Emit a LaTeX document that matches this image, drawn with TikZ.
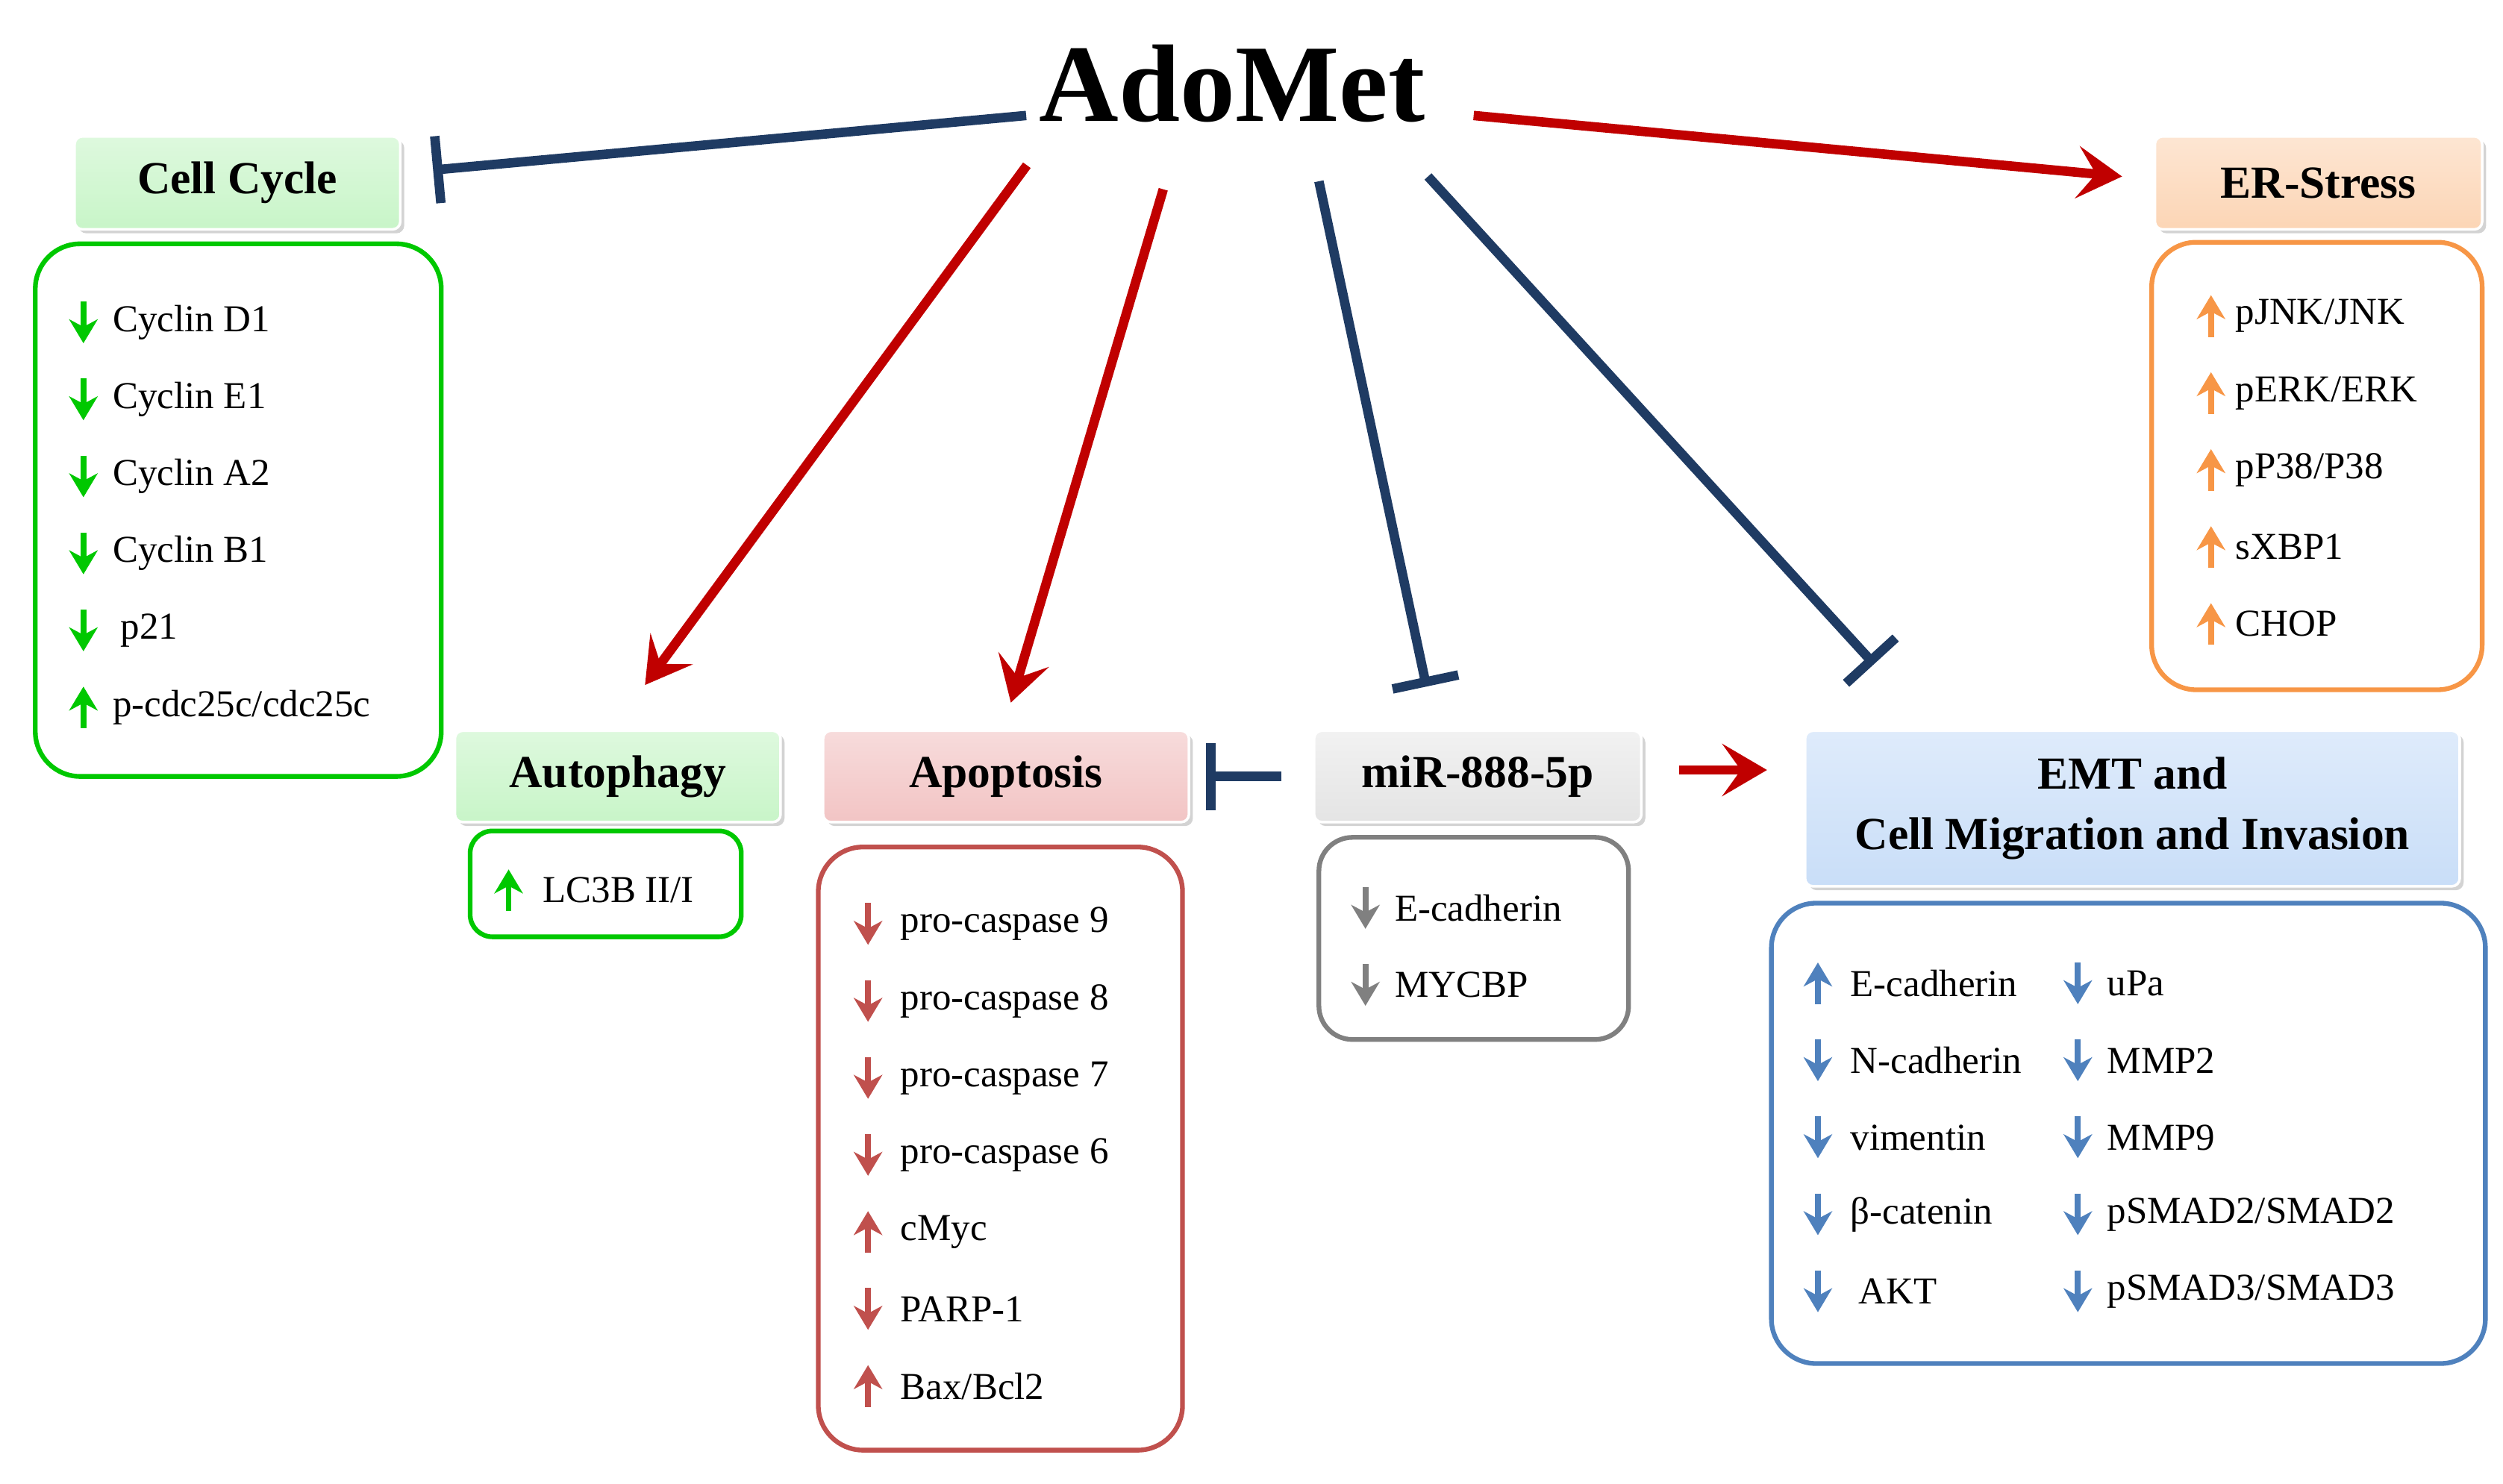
\documentclass[tikz,border=0pt]{standalone}
\usepackage{fontspec}
\setmainfont{Liberation Serif}
\usetikzlibrary{arrows.meta,shadows}
\definecolor{navy}{HTML}{1F3B63}
\definecolor{darkred}{HTML}{C00000}
\definecolor{ccgreen}{HTML}{00C800}
\definecolor{ccfill}{HTML}{C8F5C8}
\definecolor{ergold}{HTML}{F79646}
\definecolor{erfill}{HTML}{FCD5B5}
\definecolor{apred}{HTML}{C0504D}
\definecolor{apfill}{HTML}{F2C4C4}
\definecolor{migray}{HTML}{808080}
\definecolor{mifill}{HTML}{E4E4E4}
\definecolor{emblue}{HTML}{4F81BD}
\definecolor{emfill}{HTML}{C9DEF8}
\tikzset{
    head/.style={draw=white, line width=1pt, rounded corners=3pt, font=\fontsize{17.5}{21}\selectfont\bfseries,
        drop shadow={shadow xshift=1.5pt, shadow yshift=-1.5pt, opacity=0.35}},
    group/.style={draw, line width=1.8pt, rounded corners=0.6cm},
    entry/.style={anchor=west, inner sep=0pt, font=\fontsize{14.5}{17}\selectfont},
    inhibit/.style={navy, line width=3.6pt, -{Bar[width=9mm, line width=3.6pt]}},
    promote/.style={darkred, line width=3.6pt, -{Stealth[length=6mm, width=7mm, inset=2.5mm]}},
    down/.style={line width=2.2pt, -{Stealth[length=3.2mm, width=3.8mm, inset=1mm]}},
    up/.style={line width=2.2pt, {Stealth[length=3.2mm, width=3.8mm, inset=1mm]}-}
}
% an entry of a list: arrow x, text x, y, up/down, colour, name, text
\newcommand{\listentry}[7]{
    \draw[#4, #5] (#1,#3-13) -- (#1,#3+13);
    \node[entry] (#6) at (#2,#3) {#7};
}
\begin{document}
\begin{tikzpicture}[x=0.0215cm, y=-0.0215cm]
    \useasboundingbox (0,0) rectangle (1560,925);

    % title
    \node[inner sep=0pt, font=\fontsize{42}{46}\selectfont\bfseries] (adomet) at (768,52) {AdoMet};

    % headings
    \node[head, top color=ccfill!60, bottom color=ccfill, minimum width=203*0.0215cm, minimum height=58*0.0215cm] (cellcycle) at (148,114) {Cell Cycle};
    \node[head, top color=erfill!60, bottom color=erfill, minimum width=204*0.0215cm, minimum height=58*0.0215cm] (erstress) at (1445,114) {ER-Stress};
    \node[head, top color=ccfill!60, bottom color=ccfill, minimum width=203*0.0215cm, minimum height=57*0.0215cm] (autophagy) at (385,484) {Autophagy};
    \node[head, top color=apfill!60, bottom color=apfill, minimum width=228*0.0215cm, minimum height=57*0.0215cm] (apoptosis) at (627,484) {Apoptosis};
    \node[head, top color=mifill!50, bottom color=mifill, minimum width=204*0.0215cm, minimum height=57*0.0215cm] (mir) at (921,484) {miR-888-5p};
    \node[head, top color=emfill!60, bottom color=emfill, minimum width=408*0.0215cm, minimum height=97*0.0215cm, align=center] (emt) at (1329,504) {EMT and\\[2pt]Cell Migration and Invasion};

    % list frames
    \draw[group, ccgreen] (22,152) rectangle (275,484);
    \draw[group, ergold] (1341,151) rectangle (1547,430);
    \draw[group, ccgreen, rounded corners=0.3cm] (293,518) rectangle (462,584);
    \draw[group, apred] (510,528) rectangle (737,904);
    \draw[group, migray, rounded corners=0.45cm] (822,522) rectangle (1015,648);
    \draw[group, emblue] (1104,563) rectangle (1549,850);

    % cell cycle
    \listentry{52}{70}{201}{down}{ccgreen}{cc1}{Cyclin D1}
    \listentry{52}{70}{249}{down}{ccgreen}{cc2}{Cyclin E1}
    \listentry{52}{70}{297}{down}{ccgreen}{cc3}{Cyclin A2}
    \listentry{52}{70}{345}{down}{ccgreen}{cc4}{Cyclin B1}
    \listentry{52}{75}{393}{down}{ccgreen}{cc5}{p21}
    \listentry{52}{70}{441}{up}{ccgreen}{cc6}{p-cdc25c/cdc25c}

    % ER stress
    \listentry{1378}{1393}{197}{up}{ergold}{er1}{pJNK/JNK}
    \listentry{1378}{1393}{245}{up}{ergold}{er2}{pERK/ERK}
    \listentry{1378}{1393}{293}{up}{ergold}{er3}{pP38/P38}
    \listentry{1378}{1393}{341}{up}{ergold}{er4}{sXBP1}
    \listentry{1378}{1393}{389}{up}{ergold}{er5}{CHOP}

    % autophagy
    \listentry{317}{338}{555}{up}{ccgreen}{au1}{LC3B II/I}

    % apoptosis
    \listentry{541}{561}{576}{down}{apred}{ap1}{pro-caspase 9}
    \listentry{541}{561}{624}{down}{apred}{ap2}{pro-caspase 8}
    \listentry{541}{561}{672}{down}{apred}{ap3}{pro-caspase 7}
    \listentry{541}{561}{720}{down}{apred}{ap4}{pro-caspase 6}
    \listentry{541}{561}{768}{up}{apred}{ap5}{cMyc}
    \listentry{541}{561}{816}{down}{apred}{ap6}{PARP-1}
    \listentry{541}{561}{864}{up}{apred}{ap7}{Bax/Bcl2}

    % miR-888-5p
    \listentry{851}{869}{566}{down}{migray}{mi1}{E-cadherin}
    \listentry{851}{869}{614}{down}{migray}{mi2}{MYCBP}

    % EMT
    \listentry{1133}{1153}{613}{up}{emblue}{em1}{E-cadherin}
    \listentry{1133}{1153}{661}{down}{emblue}{em2}{N-cadherin}
    \listentry{1133}{1153}{709}{down}{emblue}{em3}{vimentin}
    \listentry{1133}{1153}{757}{down}{emblue}{em4}{β-catenin}
    \listentry{1133}{1158}{805}{down}{emblue}{em5}{AKT}
    \listentry{1295}{1313}{613}{down}{emblue}{em6}{uPa}
    \listentry{1295}{1313}{661}{down}{emblue}{em7}{MMP2}
    \listentry{1295}{1313}{709}{down}{emblue}{em8}{MMP9}
    \listentry{1295}{1313}{757}{down}{emblue}{em9}{pSMAD2/SMAD2}
    \listentry{1295}{1313}{805}{down}{emblue}{em10}{pSMAD3/SMAD3}

    % connectors
    \coordinate (toauto) at (402,427);
    \coordinate (toapo) at (630,438);
    \coordinate (tomir) at (889,428);
    \coordinate (toemt) at (1168,414);
    \draw[inhibit] (adomet.west |- 0,72) ++(-8,0) -- ([xshift=12]cellcycle.east |- 0,106);
    \draw[promote] (adomet.east |- 0,72) ++(30,0) -- ([xshift=-12]erstress.west |- 0,110);
    \draw[promote] (640,103) -- (toauto);
    \draw[promote] (725,118) -- (toapo);
    \draw[inhibit] (822,113) -- (tomir);
    \draw[inhibit] (890,110) -- (toemt);
    \draw[inhibit] ([xshift=-12]mir.west) -- ([xshift=6]apoptosis.east);
    \draw[promote] ([xshift=14]mir.east |- 0,480) -- ([xshift=-14]emt.west |- 0,480);
\end{tikzpicture}
\end{document}
